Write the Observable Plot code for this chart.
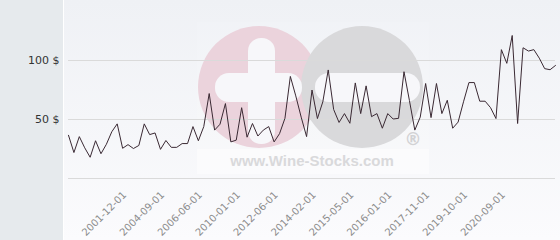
<!DOCTYPE html>
<html>
<head>
<meta charset="utf-8">
<script src="https://cdn.jsdelivr.net/npm/d3@7"></script>
<script src="https://cdn.jsdelivr.net/npm/@observablehq/plot@0.6"></script>
<style>
  html, body { margin: 0; padding: 0; background: #ffffff; }
  #chart svg { display: block; }
</style>
</head>
<body>
<div id="chart"></div>
<script>
// Price series (one value per category, in order)
const values = [
  36.6, 22, 35.5, 26, 18, 32, 21, 29, 39.6, 46.3, 25.6, 28.7, 25.4, 28, 46.3, 37.2, 38.6, 24.7, 32.2, 26.4, 26.4, 29.6, 29.6,
  44, 32, 44, 72, 41, 46, 63.5, 31, 32.5, 60, 35, 46.6, 36, 41, 44, 31, 38, 51, 86.5, 70, 52, 35.5,
  75, 50.8, 65, 92, 58.5, 47.5, 55, 46.8, 81, 55, 78.5, 52.4, 55, 42.6, 55, 50.4, 51, 90.5, 66.2, 41,
  52, 80.5, 51.6, 80.5, 55, 66.3, 42.6, 47.8, 65, 81.3, 81.3, 65.5, 65.5, 60, 50.8, 109.2, 97.6, 121.2,
  46.6, 110.8, 108, 109.2, 102, 93.1, 92.2, 95.8
];
// Category positions that carry a label, and their labels
const tickIndex = [11, 18, 25, 32, 39, 46, 53, 60, 67, 74, 81];
const tickLabels = ["2001-12-01", "2004-09-01", "2006-06-01", "2010-01-01", "2012-06-01",
  "2014-02-01", "2015-05-01", "2016-01-01", "2017-11-01", "2019-10-01", "2020-09-01"];
const yTicks = [50, 100];
const gridValues = [0, 50, 100];

const data = values.map((v, i) => ({i, v}));
const ticks = tickIndex.map((t, k) => ({i: t, label: tickLabels[k]}));

const svg = Plot.plot({
  width: 560,
  height: 240,
  marginLeft: 68,
  marginRight: 5,
  marginTop: 1,
  marginBottom: 62,
  x: {domain: [0, values.length - 1], axis: null},
  y: {domain: [0, 150], axis: null},
  style: {background: "transparent", fontFamily: "DejaVu Sans", overflow: "visible"},
  marks: [
    Plot.gridY(gridValues, {stroke: "#dadada", strokeOpacity: 1, strokeWidth: 1}),
    Plot.axisY(yTicks, {
      label: null, tickSize: 0, tickPadding: 9, tickFormat: d => d + " $",
      fontSize: 11, fill: "#333333", fontFamily: "DejaVu Sans"
    }),
    Plot.line(data, {x: "i", y: "v", stroke: "#3a2933", strokeWidth: 1, curve: "linear"}),
    Plot.text(ticks, {
      x: "i", text: "label", frameAnchor: "bottom", rotate: -45, textAnchor: "end",
      dx: -1, dy: 17, fontSize: 10, fill: "#8c8c8c", fontFamily: "DejaVu Sans"
    })
  ]
});

// Background panels and watermark (decoration, drawn behind the marks)
const s = d3.select(svg);
const defs = s.insert("defs", ":first-child");
const grad = defs.append("linearGradient").attr("id", "plotbg")
  .attr("x1", 0).attr("y1", 0).attr("x2", 0).attr("y2", 1);
grad.append("stop").attr("offset", "0%").attr("stop-color", "#eff1f5");
grad.append("stop").attr("offset", "100%").attr("stop-color", "#fbfbfd");

const bg = s.insert("g", "defs + *");
bg.append("rect").attr("x", 0).attr("y", 0).attr("width", 63).attr("height", 240).attr("fill", "#e6eaed");
bg.append("rect").attr("x", 63).attr("y", 0).attr("width", 1).attr("height", 240).attr("fill", "#ffffff");
bg.append("rect").attr("x", 64).attr("y", 0).attr("width", 496).attr("height", 240).attr("fill", "url(#plotbg)");

const wm = bg.append("g");
wm.append("rect").attr("x", 197).attr("y", 22).attr("width", 232).attr("height", 155)
  .attr("fill", "#ffffff").attr("opacity", 0.12);
wm.append("circle").attr("cx", 259).attr("cy", 87).attr("r", 61).attr("fill", "#ebd3dc");
wm.append("circle").attr("cx", 362).attr("cy", 87).attr("r", 61).attr("fill", "#d9d9db");
// plus
wm.append("rect").attr("x", 248).attr("y", 38).attr("width", 27).attr("height", 106)
  .attr("rx", 13).attr("fill", "#f7f7fa");
wm.append("rect").attr("x", 215).attr("y", 73).attr("width", 87).attr("height", 29)
  .attr("rx", 14).attr("fill", "#f7f7fa");
// minus
wm.append("rect").attr("x", 315).attr("y", 73).attr("width", 105).attr("height", 29)
  .attr("rx", 14).attr("fill", "#f7f7fa");
wm.append("rect").attr("x", 197).attr("y", 149).attr("width", 232).attr("height", 25)
  .attr("fill", "#ffffff").attr("opacity", 0.45);
wm.append("text").attr("x", 312).attr("y", 166).attr("text-anchor", "middle")
  .attr("font-family", "Liberation Sans").attr("font-weight", "bold").attr("font-size", 15)
  .attr("fill", "#d9d9db").text("www.Wine-Stocks.com");
wm.append("text").attr("x", 413).attr("y", 145).attr("text-anchor", "middle")
  .attr("font-family", "DejaVu Sans").attr("font-weight", "bold").attr("font-size", 17)
  .attr("fill", "#d2d2d4").text("®");

document.getElementById("chart").appendChild(svg);
</script>
</body>
</html>
